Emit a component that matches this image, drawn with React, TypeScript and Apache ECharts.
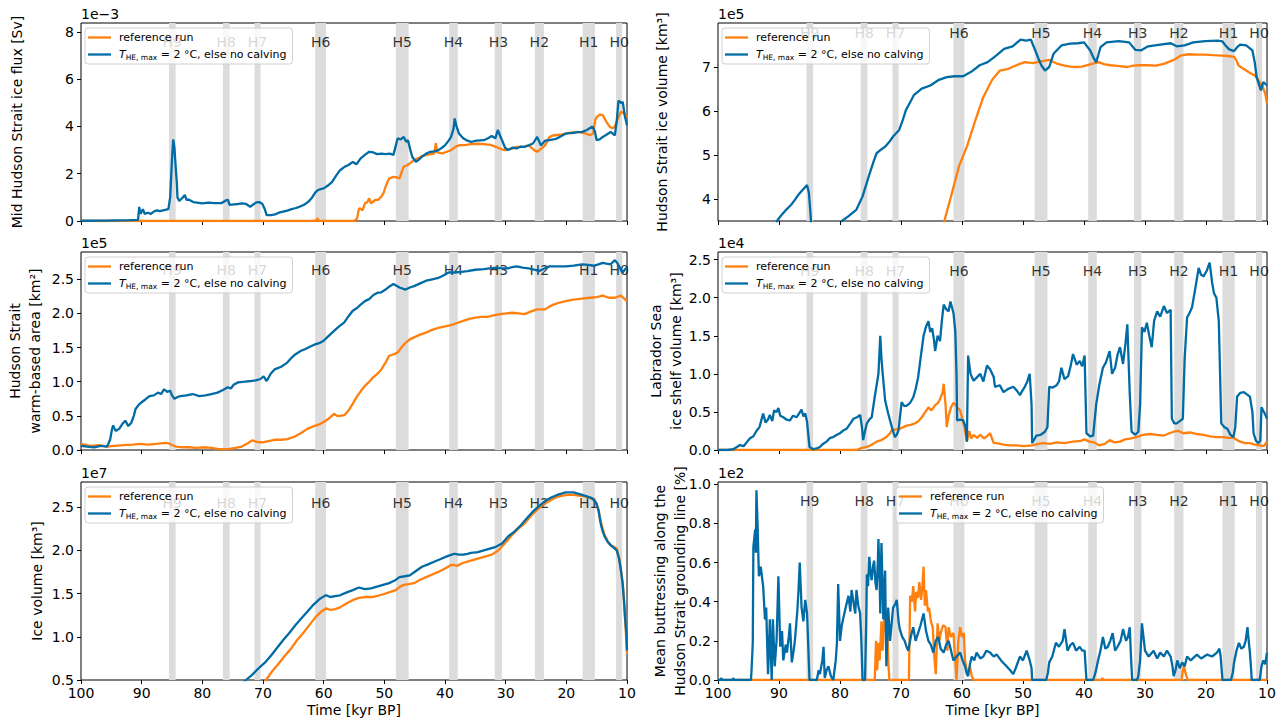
import React, { useEffect, useRef } from 'react';
import * as echarts from 'echarts';

const REF = 'reference run';
const EXP = 'T_HE,max = 2 °C, else no calving';
const ORANGE = '#ff800e';
const BLUE = '#006ba4';
const FONT = 'DejaVu Sans';

const heinrichNames = ['H0', 'H1', 'H2', 'H3', 'H4', 'H5', 'H6', 'H7', 'H8', 'H9'];
const heinrichStart = [11.8, 17.3, 25.2, 31.8, 39.3, 48.1, 61.4, 71.4, 76.6, 85.5];
const heinrichEnd = [10.8, 15.3, 23.7, 30.6, 37.9, 46.0, 59.6, 70.4, 75.5, 84.4];

// Mid Hudson Strait ice flux (x1e-3 Sv)
const fluxRef: number[][] = [[100,0],[62,0],[61.2,0.03],[61,0.12],[60.8,0],[55,0],[54.5,0.1],[54.2,0.5],[54,0.54],[53.6,0.45],[53.2,0.75],[52.8,0.8],[52.5,0.96],[52.2,0.75],[51.5,0.89],[51,0.9],[50.5,1.03],[50.1,1.2],[49.8,1.45],[49.4,1.7],[49.2,1.8],[48.5,1.87],[48,1.85],[47.5,1.8],[47.1,2.1],[46.8,2.3],[46.3,2.35],[45.8,2.44],[45.1,2.58],[44.5,2.65],[43.8,2.75],[43,2.8],[42.4,2.83],[41.8,2.85],[41.5,3.3],[41.3,2.9],[40.4,2.86],[39.5,2.95],[39,3.0],[38.2,3.15],[37.7,3.2],[36.5,3.22],[35.7,3.25],[34.5,3.27],[33.6,3.25],[32.5,3.22],[31.6,3.14],[30.8,3.05],[30.2,3.0],[29.2,3.05],[28.2,3.14],[27,3.15],[26.2,3.2],[25.3,3.0],[24.8,2.93],[24.2,3.05],[23.5,3.2],[22.8,3.55],[22.1,3.63],[21,3.65],[20.1,3.7],[19,3.75],[18.1,3.77],[17,3.72],[16.1,3.63],[15.6,3.7],[15.2,4.3],[15,4.4],[14.5,4.5],[14,4.48],[13.4,4.2],[12.9,4.0],[12.4,3.92],[12,4.0],[11.7,4.2],[11.3,4.45],[11,4.62],[10.4,4.55],[10,4.4]];
const fluxExp: number[][] = [[100,0.01],[96,0.02],[94,0.03],[92,0.04],[90.6,0.05],[90.4,0.6],[90.2,0.3],[89.8,0.5],[89.5,0.3],[89,0.35],[88.5,0.3],[88,0.4],[87.5,0.45],[87,0.42],[86.3,0.46],[85.6,0.5],[85.3,1.0],[85,2.6],[84.8,3.45],[84.6,3.1],[84.4,2.3],[84.2,1.6],[84.1,1.0],[83.8,0.85],[83.6,0.9],[83.2,1.0],[82.9,1.1],[82.6,0.9],[82.2,0.9],[81.5,0.8],[80.9,0.78],[80,0.75],[79,0.78],[78,0.76],[76.8,0.76],[76.2,0.86],[75.8,0.9],[75.5,0.68],[74.8,0.7],[74.1,0.72],[73.5,0.75],[72.8,0.72],[72.1,0.6],[71.6,0.7],[71.1,0.79],[70.6,0.8],[70.1,0.72],[69.7,0.5],[69.4,0.25],[68.7,0.25],[68,0.28],[67.4,0.35],[66.7,0.4],[66,0.44],[65.3,0.5],[64.7,0.54],[64,0.6],[63.3,0.68],[62.6,0.8],[62,0.96],[61.4,1.2],[61,1.3],[60.5,1.35],[60,1.38],[59.3,1.5],[58.6,1.66],[58,1.9],[57.3,2.15],[56.5,2.3],[55.9,2.37],[55.2,2.5],[54.6,2.4],[53.9,2.65],[53.2,2.8],[52.5,2.93],[51.8,2.9],[51.2,2.83],[50.5,2.85],[49.8,2.83],[49.1,2.85],[48.5,2.8],[48.1,3.2],[47.8,3.5],[47.3,3.45],[46.8,3.56],[46.4,3.35],[46.1,3.42],[45.7,3.0],[45.4,2.72],[44.8,2.5],[44.3,2.6],[43.8,2.72],[43.1,2.85],[42.4,2.93],[41.7,2.95],[41.1,3.0],[40.5,3.1],[40,3.2],[39.4,3.4],[39,3.56],[38.6,3.9],[38.4,4.34],[38.1,4.0],[37.7,3.7],[37,3.5],[36.3,3.4],[35.7,3.35],[34.8,3.4],[33.6,3.42],[32.9,3.5],[32.3,3.6],[31.7,3.5],[31.3,3.85],[30.9,3.6],[30.6,3.42],[30.1,3.1],[29.6,3.0],[28.9,3.1],[28.2,3.07],[27.5,3.15],[26.9,3.14],[26.2,3.2],[25.5,3.28],[24.8,3.56],[24.2,3.2],[23.5,3.4],[22.8,3.42],[22.1,3.45],[21.5,3.5],[20.8,3.6],[20.1,3.7],[19.4,3.72],[18.8,3.73],[18.1,3.76],[17.4,3.77],[16.6,3.85],[15.7,4.0],[15.3,3.8],[15,3.42],[14.5,3.45],[14,3.56],[13.4,3.65],[12.7,3.77],[12,3.63],[11.7,4.2],[11.4,5.1],[11,5.0],[10.7,5.04],[10.4,4.5],[10,4.05]];

// Hudson Strait ice volume (x1e5 km3)
const hsVolRef: number[][] = [[63.5,3.2],[62.9,3.5],[61.8,4.06],[60.5,4.74],[59.2,5.19],[57.8,5.79],[56.5,6.32],[55.1,6.7],[53.8,6.92],[52.4,6.96],[51.1,7.04],[49.7,7.11],[48.4,7.09],[47,7.13],[45.7,7.16],[44.3,7.07],[43.2,7.03],[42.3,7.01],[41.3,7.0],[40.3,7.01],[39,7.06],[37.6,7.11],[36.6,7.06],[35.6,7.04],[34.2,7.02],[32.9,7.0],[31.9,7.03],[30.9,7.04],[29.5,7.04],[28.2,7.03],[26.9,7.07],[25.5,7.15],[24.8,7.2],[24.2,7.26],[22.8,7.29],[21.5,7.28],[20.1,7.28],[18.8,7.27],[17.4,7.26],[16.4,7.25],[15.4,7.23],[15,7.15],[14.7,7.04],[14,6.97],[13.4,6.92],[12.7,6.86],[12,6.81],[11.4,6.7],[10.7,6.55],[10.3,6.4],[10,6.17]];
const hsVolExp: number[][] = [[90.8,3.3],[90.2,3.53],[89.5,3.65],[88.8,3.76],[88,3.87],[87.4,3.98],[86.8,4.1],[86.1,4.21],[85.4,4.32],[85.1,4.14],[84.8,3.6],[84.6,3.0],[80,3.0],[79.7,3.5],[78.7,3.6],[77.3,3.76],[76.3,4.06],[75.3,4.51],[74.5,4.85],[74,5.04],[73.3,5.12],[72.6,5.19],[71.9,5.3],[71.3,5.42],[70.3,5.57],[69.7,5.8],[69.2,6.02],[68.5,6.2],[67.9,6.36],[66.6,6.51],[65.2,6.58],[63.9,6.7],[62.5,6.77],[61.2,6.79],[59.8,6.79],[58.5,6.89],[57.1,7.04],[55.8,7.11],[54.4,7.26],[53.1,7.41],[51.7,7.47],[50.4,7.62],[49.5,7.6],[48.7,7.62],[48,7.38],[47.5,7.2],[47,7.04],[46.4,6.92],[45.7,7.0],[45,7.3],[43.7,7.49],[42.3,7.53],[41,7.54],[40,7.56],[39,7.38],[38.4,7.2],[38,7.11],[37.7,7.25],[37.3,7.45],[36.3,7.56],[34.3,7.59],[32.6,7.56],[31.6,7.39],[30.6,7.38],[29.5,7.47],[27.5,7.51],[25.8,7.54],[24.8,7.47],[23.5,7.49],[22.1,7.56],[20.1,7.59],[18.1,7.6],[17.3,7.58],[16.8,7.49],[16.2,7.4],[15.4,7.36],[14.9,7.45],[14.4,7.51],[13.4,7.49],[12.4,7.38],[12,7.1],[11.7,6.77],[11,6.47],[10.6,6.66],[10,6.58]];

// Hudson Strait warm-based area (x1e5 km2)
const wbAreaRef: number[][] = [[100,0.09],[98.5,0.06],[97,0.07],[95.7,0.05],[94.5,0.06],[93,0.07],[91.5,0.08],[90.3,0.09],[89,0.08],[87.6,0.09],[86.5,0.1],[85.6,0.1],[84.9,0.07],[84.3,0.05],[83.2,0.04],[82.2,0.04],[81,0.03],[79.5,0.04],[78.5,0.03],[77.5,0.015],[76.5,0.01],[75.5,0.015],[74.5,0.03],[73.5,0.05],[72.5,0.1],[71.8,0.14],[71,0.12],[70.1,0.11],[69.1,0.13],[68.1,0.15],[67,0.15],[66,0.16],[65.3,0.18],[64.7,0.2],[63.7,0.25],[62.7,0.31],[61.6,0.35],[60.6,0.38],[60,0.41],[59.3,0.45],[58.3,0.53],[57.8,0.5],[57.3,0.5],[56.6,0.51],[55.9,0.58],[55.2,0.68],[54.6,0.77],[53.9,0.86],[53.2,0.94],[52.5,1.0],[51.9,1.06],[51.2,1.11],[50.5,1.18],[49.8,1.28],[49.2,1.38],[48.5,1.4],[47.8,1.43],[47.2,1.5],[46.5,1.57],[45.8,1.62],[45.1,1.65],[44.1,1.69],[43.1,1.72],[42.1,1.76],[41.1,1.79],[40,1.81],[39,1.83],[38,1.86],[37,1.89],[36,1.92],[35,1.94],[34,1.95],[33,1.95],[32,1.97],[30.9,1.99],[29.9,2.0],[28.9,2.01],[27.9,2.0],[26.9,1.99],[25.8,2.03],[24.8,2.06],[23.5,2.06],[22.8,2.1],[22.1,2.13],[21.1,2.16],[20.1,2.18],[19.1,2.2],[18.1,2.21],[17.1,2.22],[16.1,2.23],[15,2.24],[14,2.26],[13,2.23],[12,2.23],[11,2.26],[10.5,2.22],[10,2.18]];
const wbAreaExp: number[][] = [[100,0.06],[99,0.05],[97.8,0.04],[96.8,0.06],[95.7,0.05],[95.2,0.15],[94.9,0.3],[94.7,0.36],[94.3,0.28],[93.7,0.31],[93.2,0.38],[92.7,0.43],[92.2,0.35],[91.7,0.4],[91.3,0.5],[91,0.6],[90.5,0.66],[90,0.7],[89.4,0.74],[88.7,0.79],[88,0.8],[87.3,0.84],[86.8,0.82],[86.3,0.89],[85.8,0.85],[85.3,0.87],[85,0.8],[84.6,0.75],[84,0.78],[83.6,0.79],[82.6,0.8],[81.6,0.82],[80.5,0.79],[79.5,0.8],[78.5,0.82],[77.5,0.84],[76.6,0.88],[75.8,0.92],[75.3,0.9],[74.8,0.96],[74.1,0.99],[73,1.0],[72.1,1.01],[71.2,1.02],[70.4,1.04],[69.9,1.08],[69.4,1.01],[68.7,1.12],[68.1,1.18],[67,1.22],[66,1.28],[65.3,1.35],[64.7,1.4],[63.8,1.45],[63,1.48],[62.1,1.52],[61.3,1.55],[60.6,1.57],[60,1.6],[59.3,1.66],[58.6,1.72],[57.6,1.8],[56.6,1.87],[55.9,1.96],[55.2,2.04],[54.5,2.08],[53.9,2.13],[53.2,2.18],[52.5,2.21],[51.8,2.27],[51.2,2.3],[50.5,2.31],[49.8,2.35],[49.1,2.4],[48.5,2.43],[47.5,2.38],[46.5,2.35],[45.8,2.38],[45.1,2.4],[44.1,2.44],[43.1,2.48],[42.1,2.5],[41.1,2.52],[40.2,2.56],[39.4,2.6],[38.4,2.6],[37.3,2.61],[36.3,2.62],[35,2.64],[33.6,2.65],[32.6,2.66],[31.6,2.67],[30.6,2.66],[29.6,2.66],[28.9,2.68],[28.2,2.69],[27.2,2.67],[26.2,2.66],[25.2,2.64],[24.5,2.62],[23.8,2.65],[22.8,2.69],[21.5,2.69],[20.1,2.69],[18.8,2.7],[17.4,2.72],[16.4,2.71],[15.4,2.7],[14.7,2.72],[14,2.74],[13.4,2.73],[12.7,2.72],[12,2.78],[11.6,2.74],[11.3,2.69],[10.9,2.62],[10.7,2.6],[10.3,2.65],[10,2.67]];

// Labrador Sea ice shelf volume (x1e4 km3)
const labShelfRef: number[][] = [[100,0],[77.3,0],[76.7,0.02],[75.6,0.04],[74.8,0.07],[74,0.11],[73.2,0.13],[72.4,0.17],[71.8,0.22],[71.5,0.26],[70.8,0.27],[70.2,0.28],[69.6,0.3],[69.1,0.32],[68.4,0.33],[67.7,0.35],[67.1,0.38],[66.6,0.43],[66,0.5],[65.5,0.56],[65,0.52],[64.4,0.59],[63.9,0.62],[63.6,0.67],[63.2,0.75],[63,0.87],[62.7,0.6],[62.5,0.3],[62.2,0.45],[61.8,0.56],[61.4,0.62],[61.1,0.6],[60.7,0.55],[60.3,0.52],[59.9,0.4],[59.5,0.26],[59.2,0.11],[58.8,0.25],[58.5,0.15],[58.1,0.2],[57.5,0.16],[57,0.2],[56.4,0.15],[55.9,0.18],[55.4,0.22],[54.8,0.09],[54.3,0.09],[53.2,0.07],[52.1,0.06],[51,0.06],[49.9,0.05],[48.4,0.06],[47.5,0.08],[46.7,0.09],[45.6,0.08],[44.5,0.1],[43.2,0.09],[41.8,0.11],[40.5,0.12],[39.9,0.14],[39.1,0.11],[38.3,0.1],[37.5,0.06],[36.6,0.08],[35.8,0.13],[35,0.1],[34.1,0.11],[33.3,0.14],[32.5,0.15],[31.4,0.17],[30.3,0.2],[29.2,0.21],[28,0.2],[26.9,0.19],[26,0.22],[25.3,0.24],[24.5,0.25],[23.7,0.22],[22.6,0.23],[21.5,0.21],[20.4,0.2],[19.3,0.18],[18.2,0.17],[17.1,0.17],[16.3,0.16],[15.5,0.16],[14.9,0.13],[14.4,0.11],[13.6,0.09],[12.8,0.09],[12,0.07],[11.1,0.06],[10.5,0.05],[10,0.11]];
const labShelfExp: number[][] = [[100,0],[98.5,0],[97.5,0.01],[96.9,0.04],[96.4,0.065],[95.8,0.05],[95.3,0.1],[94.8,0.15],[94.2,0.18],[93.7,0.25],[93.2,0.3],[92.6,0.48],[92.2,0.36],[91.8,0.4],[91.5,0.46],[91.1,0.38],[90.8,0.52],[90.4,0.5],[90.1,0.55],[89.8,0.45],[89.3,0.43],[88.8,0.4],[88.2,0.39],[87.7,0.45],[87.1,0.43],[86.7,0.48],[86.3,0.53],[86,0.44],[85.7,0.48],[85.4,0.37],[85,0.04],[84.4,0.01],[83.8,0.02],[83.3,0.04],[82.8,0.08],[82.2,0.11],[81.6,0.16],[81.1,0.17],[80.5,0.2],[80,0.22],[79.4,0.26],[78.9,0.28],[78.3,0.35],[77.8,0.41],[77.2,0.43],[76.7,0.46],[76.4,0.3],[76.2,0.13],[75.9,0.25],[75.6,0.35],[75.2,0.4],[74.8,0.43],[74.3,0.7],[73.9,0.9],[73.7,1.0],[73.4,1.5],[73.2,1.2],[73,1.0],[72.6,0.65],[72.1,0.48],[71.5,0.3],[71,0.17],[70.7,0.2],[70.4,0.26],[69.9,0.63],[69.5,0.58],[69.1,0.58],[68.5,0.62],[68,0.69],[67.6,0.8],[67.2,0.95],[66.8,1.2],[66.3,1.5],[65.9,1.62],[65.5,1.69],[65.2,1.55],[64.9,1.6],[64.6,1.45],[64.4,1.3],[64,1.5],[63.6,1.43],[63.3,1.7],[63,1.91],[62.6,1.85],[62.2,1.82],[61.9,1.95],[61.7,1.89],[61.4,1.8],[61.1,1.56],[60.9,1.0],[60.8,0.39],[60.3,0.4],[59.8,0.39],[59.4,0.3],[59.2,0.11],[59.0,1.24],[58.6,1.0],[58.1,0.91],[57.6,0.95],[57,1.0],[56.5,0.9],[55.9,1.11],[55.4,1.06],[54.8,0.96],[54.6,0.83],[53.8,0.85],[53.2,0.76],[52.5,0.8],[51.6,0.83],[51,0.78],[50.5,0.72],[50.1,0.78],[49.7,0.83],[49.3,0.9],[48.9,1.0],[48.6,0.6],[48.5,0.09],[47.8,0.19],[47.1,0.2],[46.4,0.24],[46,0.3],[45.7,0.83],[45.1,0.82],[44.5,0.85],[44.1,0.9],[43.7,1.08],[43.2,0.93],[42.6,0.97],[42.2,1.1],[41.8,1.26],[41.2,1.12],[40.7,1.17],[40.3,1.1],[39.9,1.24],[39.6,0.22],[39,0.18],[38.5,0.19],[38,0.6],[37.5,0.85],[36.9,1.08],[36.4,1.15],[35.8,1.3],[35.4,1.0],[34.9,1.08],[34.5,1.25],[34.1,1.35],[33.6,1.13],[33.2,1.4],[32.9,1.65],[32.5,0.74],[32.2,0.24],[31.6,0.2],[31.1,0.24],[30.8,0.6],[30.5,1.61],[30.1,1.55],[29.7,1.67],[29.3,1.5],[28.9,1.35],[28.5,1.7],[28,1.82],[27.5,1.75],[26.9,1.89],[26.4,1.8],[25.8,1.84],[25.6,0.41],[25.2,0.35],[24.8,0.35],[24.3,0.38],[23.8,0.41],[23.5,1.2],[23.1,1.74],[22.7,1.8],[22.3,1.87],[21.8,2.1],[21.2,2.39],[20.8,2.3],[20.4,2.28],[19.9,2.35],[19.4,2.46],[19.0,2.2],[18.7,2.06],[18.3,2.0],[17.9,1.69],[17.5,0.35],[17,0.3],[16.5,0.28],[16,0.2],[15.5,0.17],[15.2,0.3],[14.9,0.7],[14.4,0.75],[13.8,0.76],[13.3,0.73],[12.8,0.7],[12.4,0.5],[12.2,0.22],[11.8,0.12],[11.4,0.09],[11.1,0.12],[10.9,0.56],[10.5,0.5],[10.2,0.45],[10,0.41]];

// Ice volume (x1e7 km3)
const iceVolRef: number[][] = [[71,0.38],[69.5,0.5],[68.5,0.6],[67.4,0.69],[66.4,0.78],[65.4,0.86],[64.4,0.96],[63.3,1.05],[62.3,1.14],[61.3,1.23],[60.4,1.29],[59.6,1.33],[58.9,1.31],[58.1,1.32],[57.3,1.34],[56.6,1.37],[55.9,1.4],[55,1.43],[54.2,1.45],[53,1.46],[51.9,1.46],[50.8,1.48],[49.8,1.5],[49,1.52],[48.1,1.54],[47.4,1.58],[46.8,1.6],[46,1.61],[45.1,1.62],[44.1,1.66],[43.1,1.69],[42.1,1.72],[41.1,1.75],[40,1.79],[39,1.83],[38.5,1.83],[38,1.82],[37.2,1.85],[36.3,1.87],[35.3,1.89],[34.3,1.91],[33.3,1.93],[32.3,1.95],[31.6,1.98],[30.9,2.02],[29.9,2.1],[28.9,2.18],[27.9,2.25],[26.9,2.31],[25.8,2.4],[24.8,2.47],[23.8,2.53],[22.8,2.57],[21.8,2.61],[20.8,2.63],[19.8,2.64],[18.8,2.64],[17.7,2.63],[16.7,2.62],[15.9,2.6],[15.4,2.59],[15,2.53],[14.6,2.43],[14.2,2.3],[13.7,2.18],[13.2,2.11],[12.7,2.06],[12.2,2.04],[11.7,2.02],[11.3,1.92],[11,1.77],[10.7,1.62],[10.5,1.42],[10.3,1.2],[10,0.8]];
const iceVolExp: number[][] = [[74,0.42],[72.8,0.5],[71.8,0.56],[70.8,0.63],[69.7,0.7],[68.7,0.78],[67.7,0.87],[66.7,0.96],[65.7,1.04],[64.7,1.13],[63.7,1.21],[62.7,1.29],[61.7,1.37],[60.6,1.44],[59.9,1.47],[59.6,1.48],[58.9,1.46],[58.1,1.47],[57.3,1.48],[56.3,1.51],[55.2,1.54],[54.2,1.57],[53.2,1.55],[52.2,1.56],[51.2,1.58],[50.2,1.6],[49.2,1.62],[48.3,1.65],[47.5,1.69],[46.6,1.7],[45.8,1.71],[44.8,1.76],[43.8,1.81],[42.7,1.84],[41.7,1.87],[40.7,1.9],[39.7,1.93],[38.9,1.95],[38.4,1.96],[37.7,1.95],[37,1.95],[36.3,1.96],[35.7,1.97],[34.6,1.98],[33.6,2.0],[32.6,2.02],[31.6,2.04],[30.6,2.08],[29.6,2.16],[28.5,2.22],[27.5,2.29],[26.5,2.37],[25.5,2.45],[24.5,2.51],[23.5,2.57],[22.5,2.61],[21.5,2.64],[20.1,2.67],[18.8,2.67],[17.4,2.64],[16.5,2.62],[15.7,2.6],[15.1,2.55],[14.7,2.47],[14.4,2.33],[14.1,2.24],[13.7,2.16],[13.2,2.1],[12.7,2.06],[12.2,2.03],[11.7,2.0],[11.3,1.9],[11,1.77],[10.7,1.6],[10.5,1.42],[10.3,1.2],[10.1,1.03],[10,0.84]];

// Mean buttressing along the Hudson Strait grounding line (x1e2 %)
const buttRef: number[][] = [[100,0],[74.3,0],[74.1,0.2],[73.9,0.05],[73.7,0.19],[73.5,0.1],[73.2,0.3],[73,0.15],[72.7,0.35],[72.5,0.25],[72.3,0.35],[72.1,0.1],[71.9,0],[68.7,0],[68.5,0.43],[68.2,0.4],[68,0.48],[67.7,0.35],[67.5,0.45],[67.2,0.42],[67,0.5],[66.7,0.41],[66.5,0.48],[66.3,0.58],[66.1,0.38],[65.9,0.46],[65.6,0.35],[65.4,0.37],[65.1,0.3],[64.8,0.27],[64.5,0.1],[64.3,0.03],[64,0.29],[63.7,0.2],[63.5,0.24],[63.1,0.28],[62.7,0.27],[62.4,0.15],[62.2,0.27],[61.8,0.22],[61.4,0.24],[61.1,0.1],[60.9,0],[60.6,0.2],[60.3,0.27],[60,0.22],[59.7,0.24],[59.5,0.1],[59.1,0.03],[58.7,0.07],[58.4,0.02],[58.1,0],[37.2,0],[37,0.01],[36.8,0],[24,0],[23.8,0.05],[23.6,0.07],[23.4,0.04],[23.2,0.02],[23,0],[10,0]];
const buttExp: number[][] = [[100,0],[99.6,0],[99.5,0.01],[99.3,0],[97.6,0],[97.5,0.01],[97.3,0],[94.6,0],[94.5,0.05],[94.3,0.19],[94.2,0.68],[93.9,0.77],[93.8,0.65],[93.7,0.97],[93.5,0.78],[93.3,0.53],[93,0.58],[92.6,0.48],[92.3,0.31],[92.1,0.37],[91.8,0.03],[91.6,0.2],[91.5,0.31],[91.2,0],[91,0.31],[90.7,0.07],[90.4,0.2],[90.1,0.53],[89.8,0.17],[89.5,0.25],[89.3,0.1],[88.9,0.18],[88.7,0.14],[88.4,0.22],[88.2,0.29],[87.9,0.09],[87.6,0.15],[87.4,0.2],[87,0.35],[86.8,0.46],[86.6,0.6],[86.3,0.37],[86,0.3],[85.7,0.41],[85.4,0.34],[85,0],[83.8,0],[83.5,0.05],[83.3,0.03],[82.9,0.1],[82.7,0.17],[82.5,0.01],[82.2,0.05],[81.9,0.07],[81.5,0.02],[81.1,0],[80.7,0.1],[80.5,0.19],[80.3,0.49],[80,0.2],[79.7,0.28],[79.5,0.31],[79,0.38],[78.6,0.43],[78.3,0.35],[78.1,0.46],[77.8,0.4],[77.5,0.34],[77.3,0.46],[77,0.38],[76.7,0.34],[76.5,0.2],[76.3,0],[75.9,0],[75.7,0.3],[75.6,0.54],[75.4,0.48],[75.2,0.63],[75,0.55],[74.8,0.51],[74.6,0.58],[74.4,0.61],[74.2,0.5],[74,0.46],[73.8,0.6],[73.7,0.72],[73.5,0.5],[73.4,0.34],[73.3,0.55],[73.2,0.7],[73,0.45],[72.9,0.31],[72.7,0.5],[72.6,0.56],[72.5,0.3],[72.4,0.07],[72.1,0.37],[71.8,0.2],[71.5,0.3],[71.3,0.37],[70.9,0.39],[70.7,0.41],[70.4,0.3],[70.2,0.26],[69.8,0.22],[69.4,0.2],[69.1,0.17],[68.8,0.15],[68.4,0.22],[68,0.27],[67.6,0.2],[67.2,0.24],[66.8,0.28],[66.3,0.34],[65.9,0.25],[65.5,0.2],[65.1,0.18],[64.7,0.14],[64.3,0.2],[63.9,0.22],[63.5,0.16],[63,0.14],[62.6,0.18],[62.2,0.2],[61.8,0.15],[61.4,0.1],[60.9,0.12],[60.3,0.14],[59.9,0.1],[59.5,0.07],[59.2,0.03],[59,0.02],[58.7,0.08],[58.4,0.12],[58,0.1],[57.6,0.14],[57,0.11],[56.5,0.12],[56,0.15],[55.4,0.14],[54.8,0.12],[54.3,0.13],[53.6,0.1],[52.7,0.07],[52.1,0.05],[51.6,0.03],[51.2,0.06],[50.5,0.12],[50,0.1],[49.4,0.15],[48.9,0.1],[48.6,0.06],[48.5,0],[46.2,0],[45.9,0.04],[45.7,0.09],[45.2,0.12],[44.6,0.19],[44.1,0.17],[43.5,0.2],[43.2,0.26],[42.7,0.15],[42.2,0.18],[41.8,0.19],[41.3,0.15],[40.7,0.17],[40.3,0.15],[39.9,0.15],[39.6,0],[38.5,0],[38.1,0.04],[37.7,0.1],[37.3,0.15],[36.9,0.22],[36.5,0.16],[36.1,0.17],[35.7,0.2],[35.3,0.24],[34.9,0.15],[34.5,0.17],[34,0.2],[33.6,0.26],[33.1,0.2],[32.8,0.22],[32.5,0.27],[32.3,0.12],[32.1,0],[31.3,0],[31.1,0.02],[30.8,0.1],[30.5,0.29],[30,0.15],[29.4,0.12],[28.6,0.15],[28,0.11],[27.5,0.14],[26.9,0.12],[26.4,0.15],[25.8,0.12],[25.5,0.07],[25.3,0.02],[25,0.05],[24.7,0.1],[24.3,0.06],[23.9,0.09],[23.5,0.07],[23.1,0.12],[22.5,0.1],[21.5,0.13],[20.8,0.11],[19.8,0.13],[19,0.12],[18.2,0.14],[17.8,0.16],[17.6,0.12],[17.3,0],[15.9,0],[15.6,0.04],[15.4,0.09],[15,0.15],[14.6,0.19],[14.2,0.16],[13.8,0.17],[13.5,0.2],[13.2,0.27],[13,0.2],[12.8,0.14],[12.6,0.05],[12.5,0],[11.2,0],[10.9,0.07],[10.6,0.1],[10.3,0.08],[10,0.14]];

const panels = [
  { left: 81, top: 23, width: 546, min: 0, max: 8.38, ticks: [0, 2, 4, 6, 8], dec: 0, offset: '1e\u22123', title: 'Mid Hudson Strait ice flux [Sv]', titleX: 17, ref: fluxRef, exp: fluxExp, labelY: 7.56, legendLeft: 85, legendTop: 28, bottom: false },
  { left: 718, top: 23, width: 549, min: 3.5, max: 8.0, ticks: [4, 5, 6, 7], dec: 0, offset: '1e5', title: 'Hudson Strait ice volume [km\u00b3]', titleX: 662, ref: hsVolRef, exp: hsVolExp, labelY: 7.77, legendLeft: 722, legendTop: 28, bottom: false },
  { left: 81, top: 252, width: 546, min: 0, max: 2.9, ticks: [0, 0.5, 1, 1.5, 2, 2.5], dec: 1, offset: '1e5', title: 'Hudson Strait\nwarm-based area [km\u00b2]', titleX: 25, ref: wbAreaRef, exp: wbAreaExp, labelY: 2.64, legendLeft: 85, legendTop: 257, bottom: false },
  { left: 718, top: 252, width: 549, min: 0, max: 2.6, ticks: [0, 0.5, 1, 1.5, 2, 2.5], dec: 1, offset: '1e4', title: 'Labrador Sea\nice shelf volume [km\u00b3]', titleX: 666, ref: labShelfRef, exp: labShelfExp, labelY: 2.35, legendLeft: 722, legendTop: 257, bottom: false },
  { left: 81, top: 482, width: 546, min: 0.5, max: 2.79, ticks: [0.5, 1, 1.5, 2, 2.5], dec: 1, offset: '1e7', title: 'Ice volume [km\u00b3]', titleX: 37, ref: iceVolRef, exp: iceVolExp, labelY: 2.55, legendLeft: 85, legendTop: 487, bottom: true },
  { left: 718, top: 482, width: 549, min: 0, max: 1.012, ticks: [0, 0.2, 0.4, 0.6, 0.8, 1.0], dec: 1, offset: '1e2', title: 'Mean buttressing along the\nHudson Strait grounding line [%]', titleX: 670, ref: buttRef, exp: buttExp, labelY: 0.915, legendLeft: 896, legendTop: 487, bottom: true },
];

const PANEL_H = 198;

export default function App() {
  const ref = useRef<HTMLDivElement>(null);
  useEffect(() => {
    if (!ref.current) return;
    const chart = echarts.init(ref.current, null, { renderer: 'svg' });
    const textBase = { color: '#000', fontFamily: FONT };
    const series: any[] = [];
    panels.forEach((p, i) => {
      series.push({
        type: 'scatter', name: 'heinrich' + i, xAxisIndex: i, yAxisIndex: i, z: 1, silent: true,
        symbolSize: 1, itemStyle: { color: 'rgba(0,0,0,0)' },
        data: heinrichNames.map((n, k) => ({ name: n, value: [(heinrichStart[k] + heinrichEnd[k]) / 2, p.labelY] })),
        label: { show: true, position: 'inside', formatter: '{b}', fontSize: 14, ...textBase },
        markArea: {
          silent: true, label: { show: false }, itemStyle: { color: '#dcdcdc' },
          data: heinrichNames.map((n, k) => [{ xAxis: heinrichStart[k] }, { xAxis: heinrichEnd[k] }]),
        },
      });
      series.push({
        type: 'line', name: REF, xAxisIndex: i, yAxisIndex: i, z: 3, data: p.ref,
        showSymbol: false, symbol: 'none', lineStyle: { width: 2.3, color: ORANGE }, itemStyle: { color: ORANGE },
      });
      series.push({
        type: 'line', name: EXP, xAxisIndex: i, yAxisIndex: i, z: 4, data: p.exp,
        showSymbol: false, symbol: 'none', lineStyle: { width: 2.3, color: BLUE }, itemStyle: { color: BLUE },
      });
    });

    const graphic: any[] = [];
    panels.forEach((p) => {
      graphic.push({
        type: 'text', left: p.left, top: p.top - 16,
        style: { text: p.offset, fill: '#000', font: `14px "${FONT}"` },
      });
      graphic.push({
        type: 'text', x: p.titleX, y: p.top + PANEL_H / 2, rotation: Math.PI / 2,
        style: { text: p.title, fill: '#000', font: `14px "${FONT}"`, align: 'center', verticalAlign: 'middle', lineHeight: 20 },
      });
    });

    const option: any = {
      animation: false,
      textStyle: { fontFamily: FONT },
      grid: panels.map((p) => ({
        left: p.left, top: p.top, width: p.width, height: PANEL_H,
        show: true, borderColor: '#000', borderWidth: 1, backgroundColor: 'transparent',
      })),
      xAxis: panels.map((p, i) => ({
        type: 'value', gridIndex: i, min: 10, max: 100, interval: 10, inverse: true,
        axisLine: { show: false },
        axisTick: { show: true, length: 4, lineStyle: { color: '#000' } },
        axisLabel: { show: p.bottom, fontSize: 14, margin: 6, ...textBase },
        splitLine: { show: false },
        name: p.bottom ? 'Time [kyr BP]' : '',
        nameLocation: 'middle', nameGap: 23,
        nameTextStyle: { fontSize: 14, ...textBase },
      })),
      yAxis: panels.map((p, i) => ({
        type: 'value', gridIndex: i, min: p.min, max: p.max,
        axisLine: { show: false },
        axisTick: { show: true, length: 4, lineStyle: { color: '#000' }, customValues: p.ticks },
        axisLabel: { fontSize: 14, margin: 7, customValues: p.ticks, formatter: (v: number) => v.toFixed(p.dec), ...textBase },
        splitLine: { show: false },
      })),
      legend: panels.map((p) => ({
        left: p.legendLeft, top: p.legendTop, orient: 'vertical', selectedMode: false,
        data: [REF, EXP], icon: 'rect', itemWidth: 23, itemHeight: 2.3, itemGap: 4,
        backgroundColor: 'rgba(255,255,255,0.8)', borderColor: '#d0d0d0', borderWidth: 1, borderRadius: 3,
        padding: [3, 6, 3, 3],
        formatter: (name: string) => (name === REF ? REF : '{i|T}{s|HE, max}{n| = 2 °C, else no calving}'),
        textStyle: {
          fontSize: 11, lineHeight: 13, color: '#000', fontFamily: FONT, padding: [0, 0, 0, 3],
          rich: {
            i: { fontSize: 11, fontStyle: 'italic', fontFamily: FONT, color: '#000', lineHeight: 13 },
            s: { fontSize: 7.5, fontFamily: FONT, color: '#000', lineHeight: 13, verticalAlign: 'bottom' },
            n: { fontSize: 11, fontFamily: FONT, color: '#000', lineHeight: 13 },
          },
        },
      })),
      graphic,
      series,
    };
    chart.setOption(option);
    return () => chart.dispose();
  }, []);
  return <div ref={ref} style={{ position: 'absolute', left: 0, top: 0, width: 1282, height: 719 }} />;
}
